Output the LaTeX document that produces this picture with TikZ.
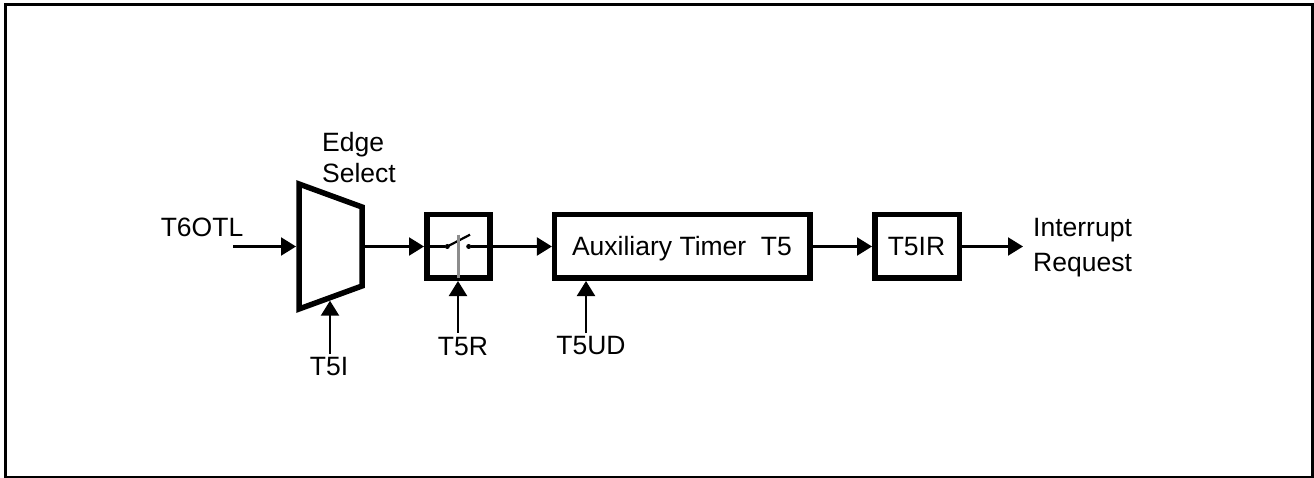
\documentclass[tikz,border=0pt]{standalone}
\usepackage{fontspec}
\setmainfont{Liberation Sans}
\usetikzlibrary{arrows.meta}
\tikzset{
  x=1pt,y=-1pt,
  blockbox/.style={draw=black,line width=5.5pt,fill=white,rectangle,inner sep=0pt,outer sep=auto,text height=0pt,text depth=0pt},
  sig/.style={line width=2.2pt,draw=black,-{Triangle[length=15pt,width=18pt]}},
  wire/.style={line width=2.2pt,draw=black},
  txt/.style={font=\fontsize{26.5}{30}\selectfont,anchor=base,inner sep=0pt,text=black},
  contact/.style={circle,fill=black,inner sep=0pt,minimum size=5pt},
}
\begin{document}
\begin{tikzpicture}
\useasboundingbox (0,0) rectangle (1314,478);
\draw[line width=3pt] (5.5,5) rectangle (1312.5,477);
% edge select
\coordinate (tl) at (299,184);
\coordinate (tr) at (362,207);
\coordinate (br) at (362,286);
\coordinate (bl) at (299,309);
\draw[line width=5.5pt,line join=miter] (tl) -- (tr) -- (br) -- (bl) -- cycle;
\coordinate (edgein) at (296,246.5);
\coordinate (edgeout) at (365,246.5);
\coordinate (edgebot) at (330,300.7);
\coordinate (t6start) at (233,246.5);
\coordinate (t5istart) at (330,354);
% blocks
\node[blockbox,minimum width=63pt,minimum height=63.5pt] (sw) at (458.25,246.5) {};
\node[blockbox,minimum width=255.5pt,minimum height=63.5pt] (timer) at (682.4,246.5) {};
\node[blockbox,minimum width=84.5pt,minimum height=63.5pt] (ir) at (917,246.5) {};
% switch
\node[contact] (c1) at (447.3,246.5) {};
\node[contact] (c2) at (468.7,246.5) {};
\coordinate (blade) at (470,234.7);
\coordinate (bartop) at (458,234.7);
\coordinate (barbot) at (458,278);
\draw[wire] (sw.west) -- (c1);
\draw[wire] (c2) -- (sw.east);
\draw[wire] (c1.center) -- (blade);
\draw[line width=3pt,draw=black!45] (bartop) -- (barbot);
% connectors
\draw[sig] (t6start) -- (edgein);
\draw[sig] (edgeout) -- (sw.west);
\draw[sig] (sw.east) -- (timer.west);
\draw[sig] (timer.east) -- (ir.west);
\coordinate (irout) at (1023,246.5);
\draw[sig] (ir.east) -- (irout);
\draw[sig] (t5istart) -- (edgebot);
\coordinate (t5rstart) at (458,332.7);
\draw[sig] (t5rstart) -- (sw.south -| t5rstart);
\coordinate (t5udstart) at (586,333);
\draw[sig] (t5udstart) -- (timer.south -| t5udstart);
% labels
\node[txt] (lt6) at (202,237) {T6OTL};
\node[txt,anchor=base west] (ledge) at (322,152) {Edge};
\node[txt,anchor=base west] (lsel) at (322,183) {Select};
\node[txt] (lt5i) at (329,375) {T5I};
\node[txt] (lt5r) at (463,355) {T5R};
\node[txt] (lud) at (591,354) {T5UD};
\node[txt] (lt) at (682,256) {Auxiliary Timer\ \ T5};
\node[txt] (lir) at (916.5,256) {T5IR};
\node[txt,anchor=base west] (lint) at (1033,237) {Interrupt};
\node[txt,anchor=base west] (lreq) at (1033,272) {Request};
\end{tikzpicture}
\end{document}
